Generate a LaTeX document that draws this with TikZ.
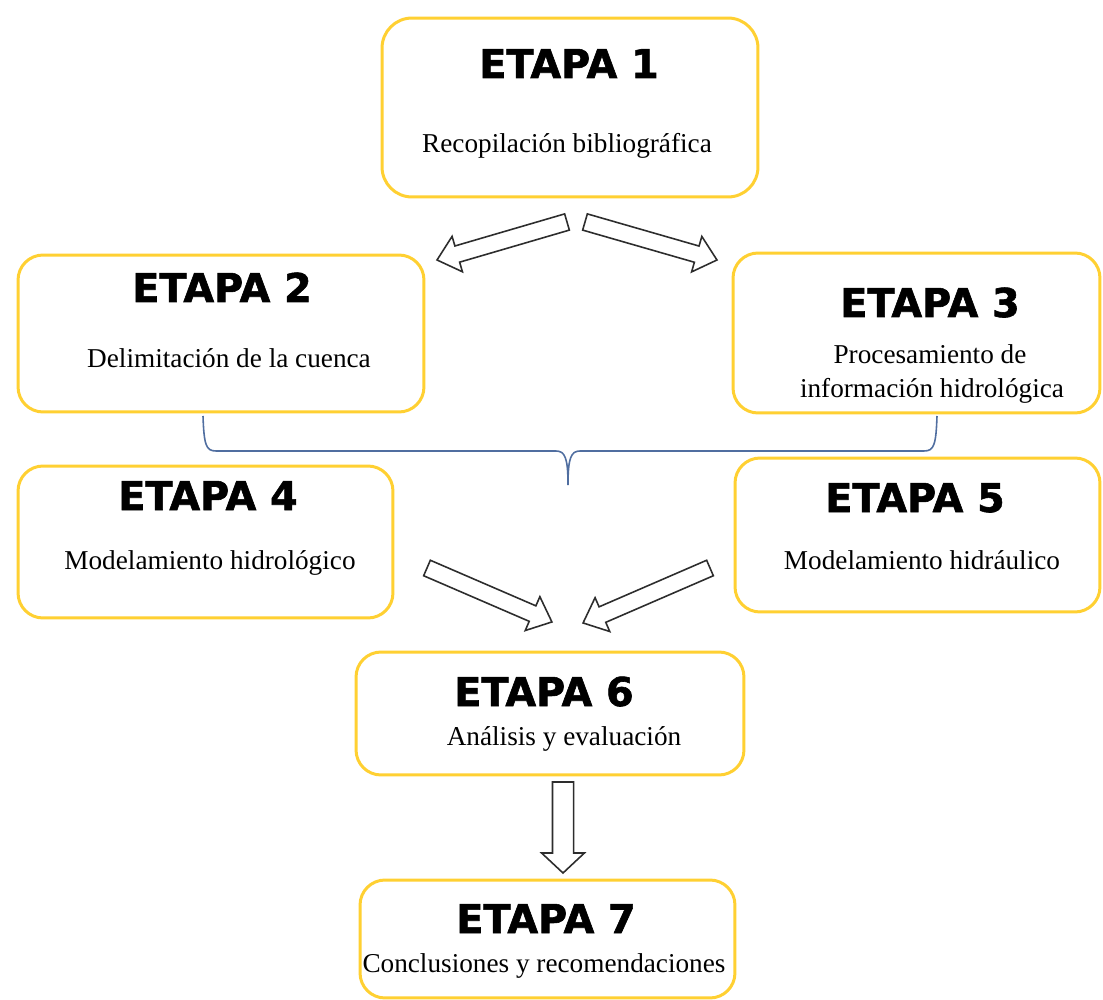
\documentclass[tikz,border=0pt]{standalone}
\usepackage{fontspec}
\setmainfont{Liberation Serif}
\newfontfamily\etapafont{DejaVu Sans}[BoldFeatures={FakeBold=1.5}]
\usetikzlibrary{calc}
\definecolor{boxyellow}{RGB}{255,208,50}
\definecolor{bracecol}{RGB}{80,110,160}
\definecolor{arrowcol}{RGB}{45,45,45}
\tikzset{
  stagebox/.style={draw=boxyellow, line width=1.7pt, rounded corners=0.5cm, inner sep=0pt},
  etapa/.style={font=\etapafont\bfseries\fontsize{22.6}{26}\selectfont, anchor=base, inner sep=0pt},
  desc/.style={font=\fontsize{15.5}{18}\selectfont, anchor=base, inner sep=0pt},
  blockarrowline/.style={draw=arrowcol, line width=0.9pt, fill=white, line join=miter},
  braceline/.style={draw=bracecol, line width=0.9pt}
}
\newcommand\blockarrow[5]{%
  \path let \p1=(#1), \p2=(#2), \n1={atan2(\y2-\y1,\x2-\x1)}, \n2={veclen(\x2-\x1,\y2-\y1)} in \pgfextra{\xdef\baang{\n1}\xdef\balen{\n2}};
  \begin{scope}[shift={(#1)}, rotate=\baang]
    \draw[blockarrowline] (0pt,-#3) -- ({\balen-#5},-#3) -- ({\balen-#5},-#4) -- (\balen,0pt) -- ({\balen-#5},#4) -- ({\balen-#5},#3) -- (0pt,#3) -- cycle;
  \end{scope}}
\begin{document}
\begin{tikzpicture}[x=0.02cm, y=-0.02cm]
\fill[white] (0,0) rectangle (1103,1000);
\useasboundingbox (0,0) rectangle (1103,1000);

% boxes
\node[stagebox, minimum width=7.52cm, minimum height=3.58cm, rounded corners=0.6cm] (b1) at (570,107.5) {};
\node[stagebox, minimum width=8.12cm, minimum height=3.14cm] (b2) at (221,333.5) {};
\node[stagebox, minimum width=7.34cm, minimum height=3.20cm] (b3) at (916.5,333) {};
\node[stagebox, minimum width=7.50cm, minimum height=3.04cm] (b4) at (205.5,542) {};
\node[stagebox, minimum width=7.30cm, minimum height=3.08cm] (b5) at (917.5,535) {};
\node[stagebox, minimum width=7.76cm, minimum height=2.46cm] (b6) at (550,713.5) {};
\node[stagebox, minimum width=7.50cm, minimum height=2.36cm] (b7) at (547.5,939) {};

% titles
\node[etapa] (t1) at (569,78) {ETAPA 1};
\node[etapa] (t2) at (222,302) {ETAPA 2};
\node[etapa] (t3) at (930,317) {ETAPA 3};
\node[etapa] (t4) at (208,510) {ETAPA 4};
\node[etapa] (t5) at (915,512) {ETAPA 5};
\node[etapa] (t6) at (544,706) {ETAPA 6};
\node[etapa] (t7) at (546,933) {ETAPA 7};

% descriptions
\node[desc] (d1) at (567,153) {Recopilación bibliográfica};
\node[desc] (d2) at (229,368) {Delimitación de la cuenca};
\node[desc] (d3a) at (930,364) {Procesamiento de};
\node[desc] (d3b) at (932,398) {información hidrológica};
\node[desc] (d4) at (210,569) {Modelamiento hidrológico};
\node[desc] (d5) at (922,569) {Modelamiento hidráulico};
\node[desc] (d6) at (564,745) {Análisis y evaluación};
\node[desc] (d7) at (544,972) {Conclusiones y recomendaciones};

% brace
\coordinate (brL) at (203,416);
\coordinate (brR) at (937,416);
\coordinate (brT) at (568,485);
\draw[braceline] (brL) .. controls (204,445) and (206,451) .. (216,451) -- (556,451)
  .. controls (565,451) and (568,458) .. (brT)
  .. controls (568,458) and (571,451) .. (580,451) -- (924,451)
  .. controls (934,451) and (936,445) .. (brR);

% arrow coordinates
\coordinate (a12s) at (567,222); \coordinate (a12e) at (437,260);
\coordinate (a13s) at (585,222); \coordinate (a13e) at (717,260);
\coordinate (a46s) at (427,568); \coordinate (a46e) at (552,622);
\coordinate (a56s) at (710,568); \coordinate (a56e) at (583,623);
\coordinate (a67s) at (563,782); \coordinate (a67e) at (563,873);

\blockarrow{a12s}{a12e}{4.8pt}{10.5pt}{12pt}
\blockarrow{a13s}{a13e}{4.8pt}{10.5pt}{12pt}
\blockarrow{a46s}{a46e}{4.8pt}{10.5pt}{12pt}
\blockarrow{a56s}{a56e}{4.8pt}{10.5pt}{12pt}
\blockarrow{a67s}{a67e}{6pt}{12.2pt}{11.4pt}
\end{tikzpicture}
\end{document}
